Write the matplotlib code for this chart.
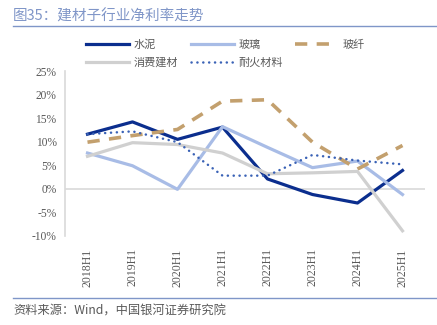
import matplotlib
matplotlib.use("Agg")
import matplotlib.pyplot as plt
from matplotlib.lines import Line2D

plt.rcParams['font.family'] = ['Noto Sans CJK SC', 'DejaVu Sans']

periods = ["2018H1", "2019H1", "2020H1", "2021H1", "2022H1", "2023H1", "2024H1", "2025H1"]
cement = [11.6, 14.2, 10.5, 13.1, 2.1, -1.2, -3.0, 3.9]
glass = [7.6, 4.9, -0.1, 13.2, 8.8, 4.5, 5.9, -1.2]
fiberglass = [9.9, 11.3, 12.6, 18.6, 18.9, 9.9, 4.2, 9.2]
consumer_bm = [6.9, 9.8, 9.4, 7.6, 3.2, 3.4, 3.7, -8.9]
refractory = [11.6, 12.2, 9.9, 2.8, 2.8, 7.2, 6.0, 5.2]
yticks = [-10, -5, 0, 5, 10, 15, 20, 25]

names = ["水泥", "玻璃", "玻纤", "消费建材", "耐火材料"]

fig = plt.figure(figsize=(4.37, 3.25), dpi=100)
ax = fig.add_axes([65 / 437, 1 - 236 / 325, 360 / 437, 165 / 325])

x = list(range(len(periods)))
grey_txt = "#595959"

ax.axhline(0, color="#d9d9d9", lw=1.2, zorder=1)

h1, = ax.plot(x, cement, color="#0b2e8e", lw=2.3, zorder=3)
h2, = ax.plot(x, glass, color="#a8bce6", lw=2.3, zorder=3)
h3, = ax.plot(x, fiberglass, color="#c3a06e", lw=2.6, linestyle=(0, (3.4, 2.6)), zorder=3)
h4, = ax.plot(x, consumer_bm, color="#d0d0d0", lw=2.3, zorder=3)
h5, = ax.plot(x, refractory, color="#3a62b6", lw=1.8, linestyle=(0, (0.05, 2.3)),
              dash_capstyle="round", zorder=4)

ax.set_xlim(-0.5, len(periods) - 0.5)
ax.set_ylim(-10, 25)
ax.set_yticks(yticks)
ax.set_yticklabels([f"{v}%" for v in yticks], family="Liberation Serif",
                   fontsize=8.3, color=grey_txt)
ax.set_xticks(x)
ax.set_xticklabels(periods, rotation=90, family="Liberation Serif",
                   fontsize=8.5, color=grey_txt)
ax.tick_params(length=0, pad=6)
ax.tick_params(axis="x", pad=9)
for s in ["top", "right", "bottom"]:
    ax.spines[s].set_visible(False)
ax.spines["left"].set_color("#d9d9d9")
ax.spines["left"].set_linewidth(1.2)

# legend fills column by column; order handles so rows read 水泥/玻璃/玻纤, then 消费建材/耐火材料
handles = [h1, h4, h2, h5, h3]
labels = [names[0], names[3], names[1], names[4], names[2]]
fig.legend(handles, labels, loc="upper left",
           bbox_to_anchor=(86 / 437, 1 - 39 / 325), ncol=3, frameon=False,
           fontsize=8, handlelength=3.9, handletextpad=0.4, columnspacing=1.1,
           labelspacing=0.75, borderpad=0, borderaxespad=0, labelcolor=grey_txt)

fig.text(13 / 437, 1 - 16 / 325, "图35：建材子行业净利率走势", fontsize=10.5,
         color="#8096c8", va="center", ha="left")
fig.add_artist(Line2D([13 / 437, 1], [1 - 26 / 325] * 2, color="#7f96c8", lw=1.0))
fig.add_artist(Line2D([13 / 437, 1], [1 - 298 / 325] * 2, color="#7f96c8", lw=1.0))
fig.text(13 / 437, 1 - 311 / 325, "资料来源：Wind，中国银河证券研究院", fontsize=8.8,
         color=grey_txt, va="center", ha="left")

fig.savefig("out.png", dpi=100, facecolor="white")
